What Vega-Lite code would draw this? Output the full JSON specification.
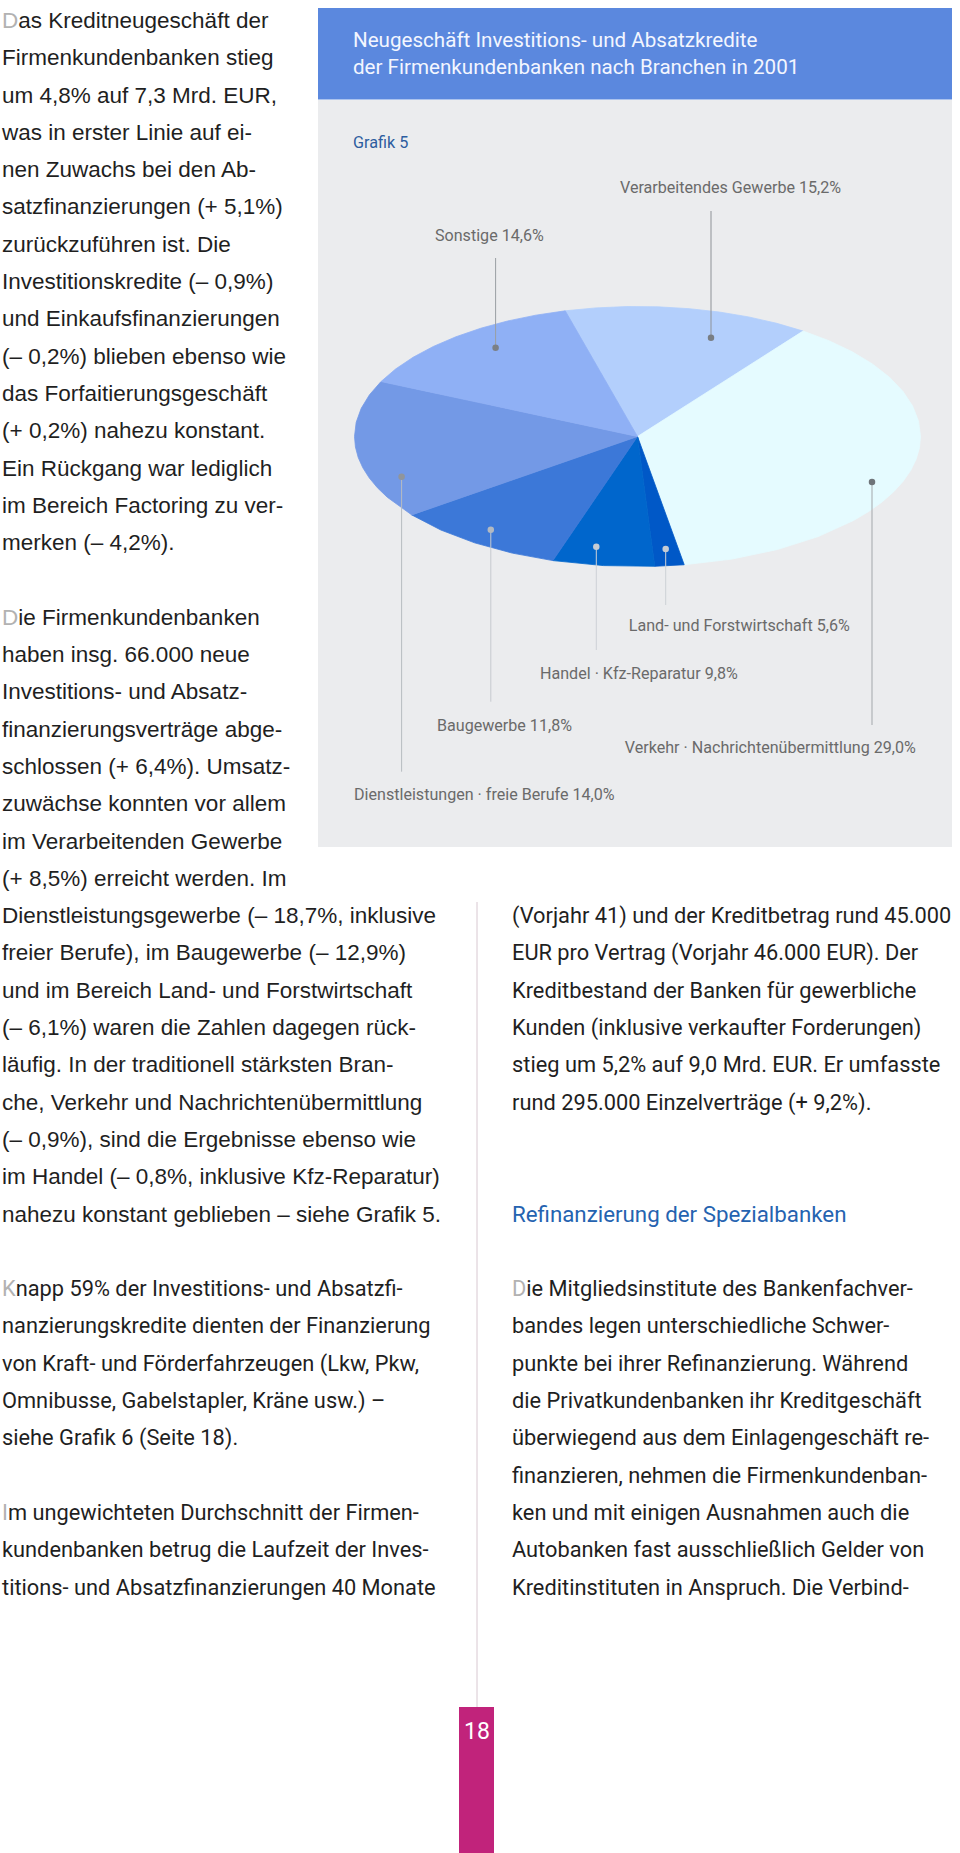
{
  "$schema": "https://vega.github.io/schema/vega-lite/v6.json",
  "width": 960,
  "height": 1853,
  "padding": 0,
  "autosize": {"type": "none"},
  "background": "#ffffff",
  "config": {"view": {"stroke": null}},
  "datasets": {
    "flaechen": [
      {"Element": "Kopf", "x1": 318, "x2": 952, "y1": 8, "y2": 99.5},
      {"Element": "Grafik", "x1": 318, "x2": 952, "y1": 100, "y2": 847},
      {"Element": "Seitenzahl", "x1": 459, "x2": 494, "y1": 1707, "y2": 1853}
    ],
    "trennlinie": [{"x": 477, "y1": 902, "y2": 1707}],
    "segmente": [
      {"Branche": "Verarbeitendes Gewerbe", "Anteil": 15.2, "type": "Feature", "geometry": {"type": "Polygon", "coordinates": [[[0, 0], [-16.56, 26.37], [39.08, 21.88], [0, 0]]]}},
      {"Branche": "Verkehr · Nachrichtenübermittlung", "Anteil": 29.0, "type": "Feature", "geometry": {"type": "Polygon", "coordinates": [[[0, 0], [39.08, 21.88], [90, 0], [10.67, -26.95], [0, 0]]]}},
      {"Branche": "Land- und Forstwirtschaft", "Anteil": 5.6, "type": "Feature", "geometry": {"type": "Polygon", "coordinates": [[[0, 0], [10.67, -26.95], [3.94, -27.3], [0, 0]]]}},
      {"Branche": "Handel · Kfz-Reparatur", "Anteil": 9.8, "type": "Feature", "geometry": {"type": "Polygon", "coordinates": [[[0, 0], [3.94, -27.3], [-19.43, -26.01], [0, 0]]]}},
      {"Branche": "Baugewerbe", "Anteil": 11.8, "type": "Feature", "geometry": {"type": "Polygon", "coordinates": [[[0, 0], [-19.43, -26.01], [-56.11, -16.09], [0, 0]]]}},
      {"Branche": "Dienstleistungen · freie Berufe", "Anteil": 14.0, "type": "Feature", "geometry": {"type": "Polygon", "coordinates": [[[0, 0], [-56.11, -16.09], [-90, 0], [-67.5, 11.2], [0, 0]]]}},
      {"Branche": "Sonstige", "Anteil": 14.6, "type": "Feature", "geometry": {"type": "Polygon", "coordinates": [[[0, 0], [-67.5, 11.2], [-16.56, 26.37], [0, 0]]]}}
    ],
    "beschriftung": [
      {"Branche": "Verarbeitendes Gewerbe", "Anteil": 15.2, "Text": "Verarbeitendes Gewerbe 15,2%", "tx": 620, "ty": 188, "px": 711, "py": 337.7, "ly": 211},
      {"Branche": "Sonstige", "Anteil": 14.6, "Text": "Sonstige 14,6%", "tx": 435, "ty": 236, "px": 495.6, "py": 347.7, "ly": 258},
      {"Branche": "Dienstleistungen · freie Berufe", "Anteil": 14.0, "Text": "Dienstleistungen · freie Berufe 14,0%", "tx": 354, "ty": 795, "px": 401.6, "py": 476.7, "ly": 771.7},
      {"Branche": "Baugewerbe", "Anteil": 11.8, "Text": "Baugewerbe 11,8%", "tx": 437, "ty": 725.7, "px": 490.8, "py": 529.7, "ly": 701.7},
      {"Branche": "Handel · Kfz-Reparatur", "Anteil": 9.8, "Text": "Handel · Kfz-Reparatur 9,8%", "tx": 540, "ty": 674, "px": 596.3, "py": 546.7, "ly": 650},
      {"Branche": "Land- und Forstwirtschaft", "Anteil": 5.6, "Text": "Land- und Forstwirtschaft 5,6%", "tx": 628.8, "ty": 626, "px": 665.7, "py": 549, "ly": 605},
      {"Branche": "Verkehr · Nachrichtenübermittlung", "Anteil": 29.0, "Text": "Verkehr · Nachrichtenübermittlung 29,0%", "tx": 624.8, "ty": 748.3, "px": 872, "py": 482, "ly": 725}
    ],
    "titel": [
      {"Text": "Neugeschäft Investitions- und Absatzkredite", "x": 353, "y": 46.7},
      {"Text": "der Firmenkundenbanken nach Branchen in 2001", "x": 353, "y": 73.5}
    ],
    "grafiknummer": [{"Text": "Grafik 5", "x": 353, "y": 148.3}],
    "seitenzahl": [{"Text": "18", "x": 477, "y": 1739.3}],
    "zwischentitel": [{"Spalte": "rechts", "Zeile": 32, "Text": "Refinanzierung der Spezialbanken"}],
    "text_a": [
      {"Spalte": "links", "Zeile": 0, "Initiale": "D", "Text": "as Kreditneugeschäft der"},
      {"Spalte": "links", "Zeile": 1, "Text": "Firmenkundenbanken stieg"},
      {"Spalte": "links", "Zeile": 2, "Text": "um 4,8% auf 7,3 Mrd. EUR,"},
      {"Spalte": "links", "Zeile": 3, "Text": "was in erster Linie auf ei-"},
      {"Spalte": "links", "Zeile": 4, "Text": "nen Zuwachs bei den Ab-"},
      {"Spalte": "links", "Zeile": 5, "Text": "satzfinanzierungen (+ 5,1%)"},
      {"Spalte": "links", "Zeile": 6, "Text": "zurückzuführen ist. Die"},
      {"Spalte": "links", "Zeile": 7, "Text": "Investitionskredite (– 0,9%)"},
      {"Spalte": "links", "Zeile": 8, "Text": "und Einkaufsfinanzierungen"},
      {"Spalte": "links", "Zeile": 9, "Text": "(– 0,2%) blieben ebenso wie"},
      {"Spalte": "links", "Zeile": 10, "Text": "das Forfaitierungsgeschäft"},
      {"Spalte": "links", "Zeile": 11, "Text": "(+ 0,2%) nahezu konstant."},
      {"Spalte": "links", "Zeile": 12, "Text": "Ein Rückgang war lediglich"},
      {"Spalte": "links", "Zeile": 13, "Text": "im Bereich Factoring zu ver-"},
      {"Spalte": "links", "Zeile": 14, "Text": "merken (– 4,2%)."},
      {"Spalte": "links", "Zeile": 16, "Initiale": "D", "Text": "ie Firmenkundenbanken"},
      {"Spalte": "links", "Zeile": 17, "Text": "haben insg. 66.000 neue"},
      {"Spalte": "links", "Zeile": 18, "Text": "Investitions- und Absatz-"},
      {"Spalte": "links", "Zeile": 19, "Text": "finanzierungsverträge abge-"},
      {"Spalte": "links", "Zeile": 20, "Text": "schlossen (+ 6,4%). Umsatz-"},
      {"Spalte": "links", "Zeile": 21, "Text": "zuwächse konnten vor allem"},
      {"Spalte": "links", "Zeile": 22, "Text": "im Verarbeitenden Gewerbe"},
      {"Spalte": "links", "Zeile": 23, "Text": "(+ 8,5%) erreicht werden. Im"},
      {"Spalte": "links", "Zeile": 24, "Text": "Dienstleistungsgewerbe (– 18,7%, inklusive"},
      {"Spalte": "links", "Zeile": 25, "Text": "freier Berufe), im Baugewerbe (– 12,9%)"},
      {"Spalte": "links", "Zeile": 26, "Text": "und im Bereich Land- und Forstwirtschaft"},
      {"Spalte": "links", "Zeile": 27, "Text": "(– 6,1%) waren die Zahlen dagegen rück-"},
      {"Spalte": "links", "Zeile": 28, "Text": "läufig. In der traditionell stärksten Bran-"},
      {"Spalte": "links", "Zeile": 29, "Text": "che, Verkehr und Nachrichtenübermittlung"},
      {"Spalte": "links", "Zeile": 30, "Text": "(– 0,9%), sind die Ergebnisse ebenso wie"},
      {"Spalte": "links", "Zeile": 31, "Text": "im Handel (– 0,8%, inklusive Kfz-Reparatur)"},
      {"Spalte": "links", "Zeile": 32, "Text": "nahezu konstant geblieben – siehe Grafik 5."}
    ],
    "text_b": [
      {"Spalte": "links", "Zeile": 34, "Initiale": "K", "Text": "napp 59% der Investitions- und Absatzfi-"},
      {"Spalte": "links", "Zeile": 35, "Text": "nanzierungskredite dienten der Finanzierung"},
      {"Spalte": "links", "Zeile": 36, "Text": "von Kraft- und Förderfahrzeugen (Lkw, Pkw,"},
      {"Spalte": "links", "Zeile": 37, "Text": "Omnibusse, Gabelstapler, Kräne usw.) –"},
      {"Spalte": "links", "Zeile": 38, "Text": "siehe Grafik 6 (Seite 18)."},
      {"Spalte": "links", "Zeile": 40, "Initiale": "I", "Text": "m ungewichteten Durchschnitt der Firmen-"},
      {"Spalte": "links", "Zeile": 41, "Text": "kundenbanken betrug die Laufzeit der Inves-"},
      {"Spalte": "links", "Zeile": 42, "Text": "titions- und Absatzfinanzierungen 40 Monate"},
      {"Spalte": "rechts", "Zeile": 24, "Text": "(Vorjahr 41) und der Kreditbetrag rund 45.000"},
      {"Spalte": "rechts", "Zeile": 25, "Text": "EUR pro Vertrag (Vorjahr 46.000 EUR). Der"},
      {"Spalte": "rechts", "Zeile": 26, "Text": "Kreditbestand der Banken für gewerbliche"},
      {"Spalte": "rechts", "Zeile": 27, "Text": "Kunden (inklusive verkaufter Forderungen)"},
      {"Spalte": "rechts", "Zeile": 28, "Text": "stieg um 5,2% auf 9,0 Mrd. EUR. Er umfasste"},
      {"Spalte": "rechts", "Zeile": 29, "Text": "rund 295.000 Einzelverträge (+ 9,2%)."},
      {"Spalte": "rechts", "Zeile": 34, "Initiale": "D", "Text": "ie Mitgliedsinstitute des Bankenfachver-"},
      {"Spalte": "rechts", "Zeile": 35, "Text": "bandes legen unterschiedliche Schwer-"},
      {"Spalte": "rechts", "Zeile": 36, "Text": "punkte bei ihrer Refinanzierung. Während"},
      {"Spalte": "rechts", "Zeile": 37, "Text": "die Privatkundenbanken ihr Kreditgeschäft"},
      {"Spalte": "rechts", "Zeile": 38, "Text": "überwiegend aus dem Einlagengeschäft re-"},
      {"Spalte": "rechts", "Zeile": 39, "Text": "finanzieren, nehmen die Firmenkundenban-"},
      {"Spalte": "rechts", "Zeile": 40, "Text": "ken und mit einigen Ausnahmen auch die"},
      {"Spalte": "rechts", "Zeile": 41, "Text": "Autobanken fast ausschließlich Gelder von"},
      {"Spalte": "rechts", "Zeile": 42, "Text": "Kreditinstituten in Anspruch. Die Verbind-"}
    ]
  },
  "resolve": {"scale": {"x": "independent", "y": "independent", "color": "independent", "stroke": "independent"}},
  "layer": [
    {
      "data": {"name": "flaechen"},
      "mark": {"type": "rect"},
      "encoding": {
        "x": {"field": "x1", "type": "quantitative", "scale": {"type": "linear", "domain": [0, 960], "range": [0, 960], "nice": false, "zero": false}, "axis": null},
        "x2": {"field": "x2"},
        "y": {"field": "y1", "type": "quantitative", "scale": {"type": "linear", "domain": [0, 1853], "range": [0, 1853], "nice": false, "zero": false}, "axis": null},
        "y2": {"field": "y2"},
        "color": {"field": "Element", "type": "nominal", "scale": {"domain": ["Kopf", "Grafik", "Seitenzahl"], "range": ["#5b88de", "#ebecee", "#c1237b"]}, "legend": null}
      }
    },
    {
      "data": {"name": "trennlinie"},
      "mark": {"type": "rule", "color": "#d8c8d1", "strokeWidth": 1},
      "encoding": {
        "x": {"field": "x", "type": "quantitative", "scale": {"type": "linear", "domain": [0, 960], "range": [0, 960], "nice": false, "zero": false}, "axis": null},
        "y": {"field": "y1", "type": "quantitative", "scale": {"type": "linear", "domain": [0, 1853], "range": [0, 1853], "nice": false, "zero": false}, "axis": null},
        "y2": {"field": "y2"}
      }
    },
    {
      "data": {"name": "segmente"},
      "projection": {"type": "orthographic", "scale": 283, "translate": [637.5, 436.5], "rotate": [0, 0, 0]},
      "mark": {"type": "geoshape", "strokeWidth": 0.8},
      "encoding": {
        "color": {"field": "Branche", "type": "nominal", "scale": {"domain": ["Verarbeitendes Gewerbe", "Verkehr · Nachrichtenübermittlung", "Land- und Forstwirtschaft", "Handel · Kfz-Reparatur", "Baugewerbe", "Dienstleistungen · freie Berufe", "Sonstige"], "range": ["#b3cffc", "#e5fbff", "#0058c7", "#0066cc", "#3c78d8", "#7399e6", "#8fb0f5"]}, "legend": null},
        "stroke": {"field": "Branche", "type": "nominal", "scale": {"domain": ["Verarbeitendes Gewerbe", "Verkehr · Nachrichtenübermittlung", "Land- und Forstwirtschaft", "Handel · Kfz-Reparatur", "Baugewerbe", "Dienstleistungen · freie Berufe", "Sonstige"], "range": ["#b3cffc", "#e5fbff", "#0058c7", "#0066cc", "#3c78d8", "#7399e6", "#8fb0f5"]}, "legend": null}
      }
    },
    {
      "data": {"name": "beschriftung"},
      "mark": {"type": "rule", "strokeWidth": 1},
      "encoding": {
        "x": {"field": "px", "type": "quantitative", "scale": {"type": "linear", "domain": [0, 960], "range": [0, 960], "nice": false, "zero": false}, "axis": null},
        "y": {"field": "py", "type": "quantitative", "scale": {"type": "linear", "domain": [0, 1853], "range": [0, 1853], "nice": false, "zero": false}, "axis": null},
        "y2": {"field": "ly"},
        "color": {"field": "Branche", "type": "nominal", "scale": {"domain": ["Verarbeitendes Gewerbe", "Verkehr · Nachrichtenübermittlung", "Land- und Forstwirtschaft", "Handel · Kfz-Reparatur", "Baugewerbe", "Dienstleistungen · freie Berufe", "Sonstige"], "range": ["#8e9297", "#a3a7ab", "#cdd1d6", "#cdd1d6", "#c6cacf", "#b8bcc1", "#9a9ea3"]}, "legend": null}
      }
    },
    {
      "data": {"name": "beschriftung"},
      "mark": {"type": "point", "filled": true, "size": 42, "opacity": 1},
      "encoding": {
        "x": {"field": "px", "type": "quantitative", "scale": {"type": "linear", "domain": [0, 960], "range": [0, 960], "nice": false, "zero": false}, "axis": null},
        "y": {"field": "py", "type": "quantitative", "scale": {"type": "linear", "domain": [0, 1853], "range": [0, 1853], "nice": false, "zero": false}, "axis": null},
        "color": {"field": "Branche", "type": "nominal", "scale": {"domain": ["Verarbeitendes Gewerbe", "Verkehr · Nachrichtenübermittlung", "Land- und Forstwirtschaft", "Handel · Kfz-Reparatur", "Baugewerbe", "Dienstleistungen · freie Berufe", "Sonstige"], "range": ["#797e84", "#6f7479", "#c6ccd4", "#c6ccd4", "#b3b9c1", "#90959b", "#7b8087"]}, "legend": null}
      }
    },
    {
      "data": {"name": "beschriftung"},
      "mark": {"type": "text", "align": "left", "baseline": "middle", "font": "Roboto", "fontSize": 16.1, "color": "#6a6a6a"},
      "encoding": {
        "x": {"field": "tx", "type": "quantitative", "scale": {"type": "linear", "domain": [0, 960], "range": [0, 960], "nice": false, "zero": false}, "axis": null},
        "y": {"field": "ty", "type": "quantitative", "scale": {"type": "linear", "domain": [0, 1853], "range": [0, 1853], "nice": false, "zero": false}, "axis": null},
        "text": {"field": "Text", "type": "nominal"}
      }
    },
    {
      "data": {"name": "titel"},
      "mark": {"type": "text", "align": "left", "baseline": "alphabetic", "font": "Roboto", "fontSize": 20.6, "color": "#f3f6ff"},
      "encoding": {
        "x": {"field": "x", "type": "quantitative", "scale": {"type": "linear", "domain": [0, 960], "range": [0, 960], "nice": false, "zero": false}, "axis": null},
        "y": {"field": "y", "type": "quantitative", "scale": {"type": "linear", "domain": [0, 1853], "range": [0, 1853], "nice": false, "zero": false}, "axis": null},
        "text": {"field": "Text", "type": "nominal"}
      }
    },
    {
      "data": {"name": "grafiknummer"},
      "mark": {"type": "text", "align": "left", "baseline": "alphabetic", "font": "Roboto", "fontSize": 16.2, "color": "#2d5d9f"},
      "encoding": {
        "x": {"field": "x", "type": "quantitative", "scale": {"type": "linear", "domain": [0, 960], "range": [0, 960], "nice": false, "zero": false}, "axis": null},
        "y": {"field": "y", "type": "quantitative", "scale": {"type": "linear", "domain": [0, 1853], "range": [0, 1853], "nice": false, "zero": false}, "axis": null},
        "text": {"field": "Text", "type": "nominal"}
      }
    },
    {
      "data": {"name": "seitenzahl"},
      "mark": {"type": "text", "align": "center", "baseline": "alphabetic", "font": "Roboto", "fontSize": 23, "color": "#ffffff"},
      "encoding": {
        "x": {"field": "x", "type": "quantitative", "scale": {"type": "linear", "domain": [0, 960], "range": [0, 960], "nice": false, "zero": false}, "axis": null},
        "y": {"field": "y", "type": "quantitative", "scale": {"type": "linear", "domain": [0, 1853], "range": [0, 1853], "nice": false, "zero": false}, "axis": null},
        "text": {"field": "Text", "type": "nominal"}
      }
    },
    {
      "data": {"name": "text_a"},
      "encoding": {
        "x": {"field": "Spalte", "type": "nominal", "scale": {"type": "point", "domain": ["links", "rechts"], "range": [2, 512], "padding": 0}, "axis": null},
        "y": {"field": "Zeile", "type": "quantitative", "scale": {"type": "linear", "domain": [0, 42], "range": [27.9, 1594.5], "nice": false, "zero": false}, "axis": null}
      },
      "layer": [
        {
          "transform": [{"filter": "!isValid(datum.Initiale)"}],
          "mark": {"type": "text", "align": "left", "baseline": "alphabetic", "font": "Liberation Sans", "fontSize": 22.5, "color": "#1f1f1f"},
          "encoding": {"text": {"field": "Text", "type": "nominal"}}
        },
        {
          "transform": [{"filter": "isValid(datum.Initiale)"}],
          "mark": {"type": "text", "align": "left", "baseline": "alphabetic", "font": "Liberation Sans", "fontSize": 22.5, "color": "#b2b2b2"},
          "encoding": {"text": {"field": "Initiale", "type": "nominal"}}
        },
        {
          "transform": [{"filter": "datum.Initiale === 'D'"}],
          "mark": {"type": "text", "align": "left", "baseline": "alphabetic", "font": "Liberation Sans", "fontSize": 22.5, "dx": 16.25, "color": "#1f1f1f"},
          "encoding": {"text": {"field": "Text", "type": "nominal"}}
        }
      ]
    },
    {
      "data": {"name": "text_b"},
      "encoding": {
        "x": {"field": "Spalte", "type": "nominal", "scale": {"type": "point", "domain": ["links", "rechts"], "range": [2, 512], "padding": 0}, "axis": null},
        "y": {"field": "Zeile", "type": "quantitative", "scale": {"type": "linear", "domain": [0, 42], "range": [27.9, 1594.5], "nice": false, "zero": false}, "axis": null}
      },
      "layer": [
        {
          "transform": [{"filter": "!isValid(datum.Initiale)"}],
          "mark": {"type": "text", "align": "left", "baseline": "alphabetic", "font": "Roboto", "fontSize": 21.8, "color": "#1f1f1f"},
          "encoding": {"text": {"field": "Text", "type": "nominal"}}
        },
        {
          "transform": [{"filter": "isValid(datum.Initiale)"}],
          "mark": {"type": "text", "align": "left", "baseline": "alphabetic", "font": "Roboto", "fontSize": 21.8, "color": "#b2b2b2"},
          "encoding": {"text": {"field": "Initiale", "type": "nominal"}}
        },
        {
          "transform": [{"filter": "datum.Initiale === 'D'"}],
          "mark": {"type": "text", "align": "left", "baseline": "alphabetic", "font": "Roboto", "fontSize": 21.8, "dx": 14.3, "color": "#1f1f1f"},
          "encoding": {"text": {"field": "Text", "type": "nominal"}}
        },
        {
          "transform": [{"filter": "datum.Initiale === 'K'"}],
          "mark": {"type": "text", "align": "left", "baseline": "alphabetic", "font": "Roboto", "fontSize": 21.8, "dx": 13.7, "color": "#1f1f1f"},
          "encoding": {"text": {"field": "Text", "type": "nominal"}}
        },
        {
          "transform": [{"filter": "datum.Initiale === 'I'"}],
          "mark": {"type": "text", "align": "left", "baseline": "alphabetic", "font": "Roboto", "fontSize": 21.8, "dx": 5.9, "color": "#1f1f1f"},
          "encoding": {"text": {"field": "Text", "type": "nominal"}}
        }
      ]
    },
    {
      "data": {"name": "zwischentitel"},
      "mark": {"type": "text", "align": "left", "baseline": "alphabetic", "font": "Roboto", "fontSize": 22.3, "color": "#2563b0"},
      "encoding": {
        "x": {"field": "Spalte", "type": "nominal", "scale": {"type": "point", "domain": ["links", "rechts"], "range": [2, 512], "padding": 0}, "axis": null},
        "y": {"field": "Zeile", "type": "quantitative", "scale": {"type": "linear", "domain": [0, 42], "range": [27.9, 1594.5], "nice": false, "zero": false}, "axis": null},
        "text": {"field": "Text", "type": "nominal"}
      }
    }
  ]
}
